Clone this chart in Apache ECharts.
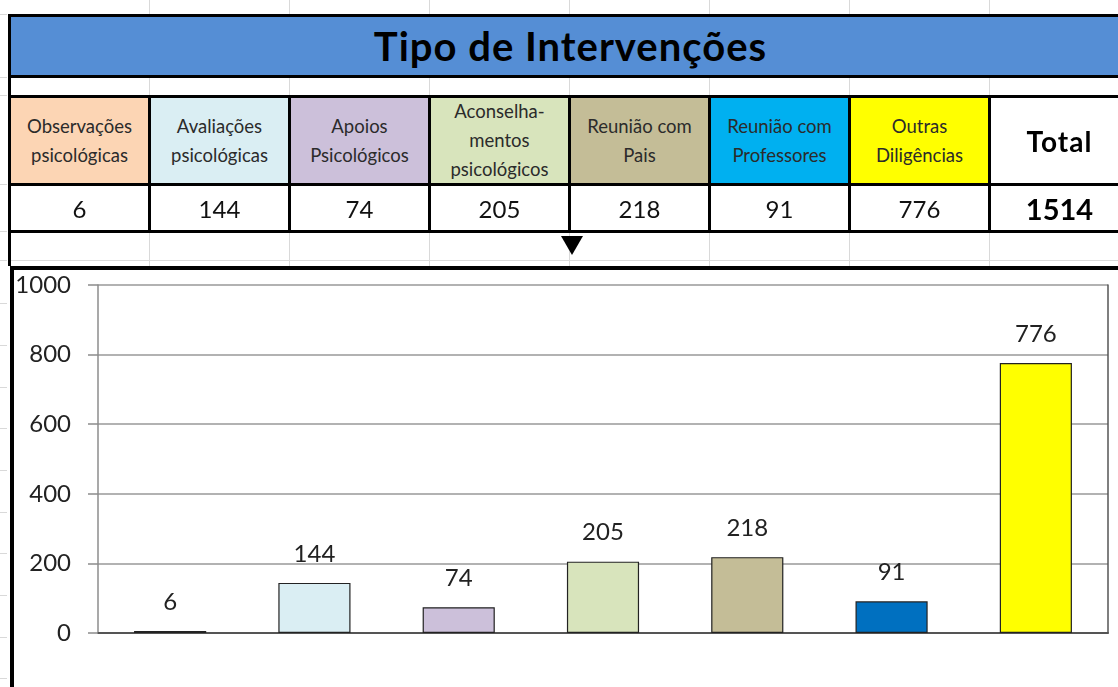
<!DOCTYPE html>
<html>
<head>
<meta charset="utf-8">
<script src="https://cdn.jsdelivr.net/npm/echarts@6/dist/echarts.min.js"></script>
<style>
  html, body { margin: 0; padding: 0; background: #fff; }
  body { width: 1118px; height: 687px; position: relative; overflow: hidden; font-family: Lato, "Noto Sans", sans-serif; }
  #chart { position: absolute; left: 0; top: 0; width: 1118px; height: 687px; }
  .abs { position: absolute; box-sizing: border-box; }
  .cell { display: flex; align-items: center; justify-content: center; text-align: center; }
</style>
</head>
<body>
<div id="chart"></div>
<div id="sheet"></div>
<script>
const title = "Tipo de Intervenções";
const categories = [
  "Observações\npsicológicas",
  "Avaliações\npsicológicas",
  "Apoios\nPsicológicos",
  "Aconselha-\nmentos\npsicológicos",
  "Reunião com\nPais",
  "Reunião com\nProfessores",
  "Outras\nDiligências"
];
const values = [6, 144, 74, 205, 218, 91, 776];
const totalLabel = "Total";
const total = 1514;
const headerColors = ["#FCD5B4", "#DAEEF3", "#CCC0DA", "#D8E4BC", "#C4BD97", "#00B0F0", "#FFFF00"];
const barColors = ["#E6B898", "#DAEEF3", "#CCC0DA", "#D8E4BC", "#C4BD97", "#0070C0", "#FFFF00"];

// spreadsheet-ish table drawn with plain divs
const sheet = document.getElementById("sheet");
function box(x, y, w, h, css, text) {
  const d = document.createElement("div");
  d.className = "abs" + (text !== undefined ? " cell" : "");
  d.style.left = x + "px"; d.style.top = y + "px";
  d.style.width = w + "px"; d.style.height = h + "px";
  Object.assign(d.style, css || {});
  if (text !== undefined) d.innerHTML = text;
  sheet.appendChild(d);
  return d;
}

const colW = 140;
const x0 = 8;
const faint = "#d9d9d9";

// faint sheet gridlines
for (let i = 1; i <= 8; i++) {
  const x = x0 + i * colW + 1;
  box(x, 0, 1, 14, { background: faint });
  box(x, 78, 1, 17, { background: faint });
  box(x, 233, 1, 33, { background: faint });
}
box(11, 260, 1107, 1, { background: faint });
for (const y of [14, 77, 95, 184, 231, 260, 303, 345, 387, 428, 470, 512, 553, 595, 637, 678]) {
  box(0, y, 7, 1, { background: faint });
}

// title bar
box(x0, 14, 1118 - x0, 64, { background: "#558ED5", borderTop: "3px solid #000", borderBottom: "3px solid #000", borderLeft: "3px solid #000" });
box(x0 + 15, 17, 1118 - x0 - 15, 58, { fontWeight: "bold", fontSize: "40px", letterSpacing: "1px", color: "#000" }, title);

// left border through spacer rows
box(x0, 78, 3, 17, { background: "#000" });
box(x0, 231, 3, 35, { background: "#000" });

// header + value rows
categories.forEach((c, i) => {
  const x = x0 + i * colW;
  box(x, 95, colW + 3, 91, { background: headerColors[i], border: "3px solid #000", fontSize: "18.5px", lineHeight: "29px", color: "#2b2b2b" }, c.replace(/\n/g, "<br>"));
  box(x, 183, colW + 3, 50, { border: "3px solid #000", fontSize: "24px", color: "#111" }, String(values[i]));
});
const xt = x0 + 7 * colW;
box(xt, 95, colW + 3, 91, { border: "3px solid #000", fontSize: "28px", letterSpacing: "1px", fontWeight: "bold", color: "#000" }, totalLabel);
box(xt, 183, colW + 3, 50, { border: "3px solid #000", fontSize: "29px", fontWeight: "bold", color: "#000" }, String(total));

// little arrow under the table
box(561, 236, 0, 0, { borderLeft: "11px solid transparent", borderRight: "11px solid transparent", borderTop: "19px solid #000" });

// chart frame
box(10, 266, 1108, 4, { background: "#000" });
box(10, 266, 4, 421, { background: "#000" });

const chart = echarts.init(document.getElementById("chart"), null, { renderer: "canvas" });
chart.setOption({
  animation: false,
  grid: { left: 98, right: 10, top: 285, bottom: 54 },
  xAxis: [
    {
      type: "category", data: categories,
      axisLine: { lineStyle: { color: "#3a3a3a", width: 1.5 } },
      axisTick: { show: false }, axisLabel: { show: false }
    },
    {
      type: "category", data: categories, position: "top",
      axisLine: { lineStyle: { color: "#555", width: 1.5 } },
      axisTick: { show: false }, axisLabel: { show: false }
    }
  ],
  yAxis: [
    {
      type: "value", min: 0, max: 1000, interval: 200,
      axisLine: { show: true, lineStyle: { color: "#8c8c8c", width: 1.5 } },
      axisTick: { show: true, length: 10, lineStyle: { color: "#8c8c8c", width: 1.5 } },
      axisLabel: { fontSize: 24, color: "#222", fontFamily: "Lato", margin: 27, formatter: (v) => String(v) },
      splitLine: { lineStyle: { color: "#999", width: 1.5 } }
    },
    {
      type: "value", min: 0, max: 1000, position: "right",
      axisLine: { show: true, lineStyle: { color: "#555", width: 1.5 } },
      axisTick: { show: false }, axisLabel: { show: false }, splitLine: { show: false }
    }
  ],
  series: [{
    type: "bar",
    data: values.map((v, i) => ({ value: v, itemStyle: { color: barColors[i] } })),
    barWidth: "50%",
    itemStyle: { borderColor: "#222", borderWidth: 1.2 },
    label: { show: true, position: "top", distance: 17, fontSize: 24, color: "#222", fontFamily: "Lato" }
  }]
});
</script>
</body>
</html>
